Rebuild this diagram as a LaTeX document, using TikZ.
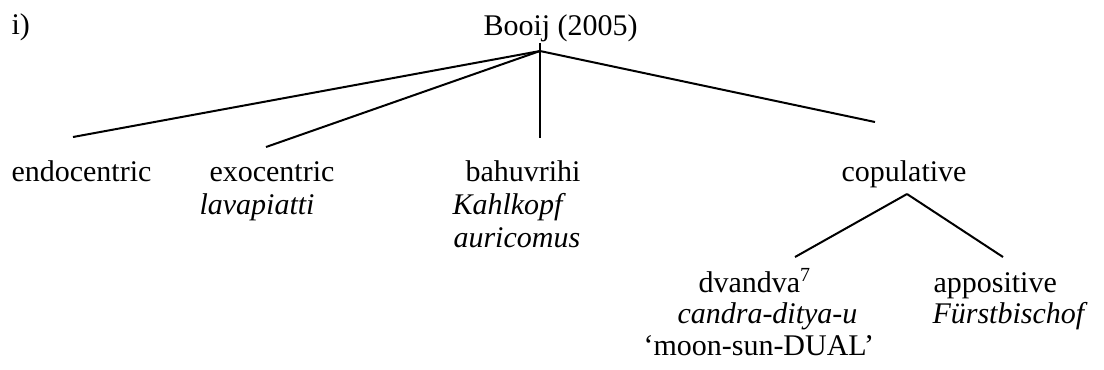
\documentclass[tikz,border=0pt]{standalone}
\usepackage{fontspec}
\setmainfont{Liberation Serif}
\usepackage{tikz}

\begin{document}
\begin{tikzpicture}[x=0.4pt, y=-0.4pt]
    \tikzset{term/.style={inner sep=0pt, anchor=base west, font=\fontsize{12}{14}\selectfont},
             example/.style={term, font=\fontsize{12}{14}\selectfont\itshape},
             branch/.style={thick}}
    \useasboundingbox (0, 0) rectangle (1104, 369);
    % Heading
    \node [term] (num) at (11, 34) {i)};
    \node [term] (root) at (483, 35) {Booij (2005)};
    % First level
    \node [term] (endo) at (11, 181) {endocentric};
    \node [term] (exo) at (209, 181) {exocentric};
    \node [example] (exoex) at (199, 214) {lavapiatti};
    \node [term] (bahu) at (465, 181) {bahuvrihi};
    \node [example] (bahuex) at (452, 214) {Kahlkopf};
    \node [example] (bahuexb) at (453, 247) {auricomus};
    \node [term] (copu) at (841, 181) {copulative};
    % Second level
    \node [term] (dvandva) at (698, 292) {dvandva\textsuperscript{7}};
    \node [example] (dvandvaex) at (677, 323) {candra-ditya-u};
    \node [term] (dvandvagl) at (643, 355) {‘moon-sun-DUAL’};
    \node [term] (appos) at (933, 292) {appositive};
    \node [example] (apposex) at (932, 323) {Fürstbischof};
    % Branch points
    \coordinate (apex) at (540, 51);
    \coordinate (tick) at (540, 43);
    \coordinate (endotop) at (73, 137);
    \coordinate (exotop) at (266, 147);
    \coordinate (bahutop) at (540, 138);
    \coordinate (coputop) at (875, 122);
    \coordinate (copuapex) at (907, 194);
    \coordinate (dvandvatop) at (795, 257);
    \coordinate (appostop) at (1003, 257);
    % Branches
    \draw [branch] (tick) -- (bahutop);
    \draw [branch] (apex) -- (endotop);
    \draw [branch] (apex) -- (exotop);
    \draw [branch] (apex) -- (coputop);
    \draw [branch] (copuapex) -- (dvandvatop);
    \draw [branch] (copuapex) -- (appostop);
\end{tikzpicture}
\end{document}
